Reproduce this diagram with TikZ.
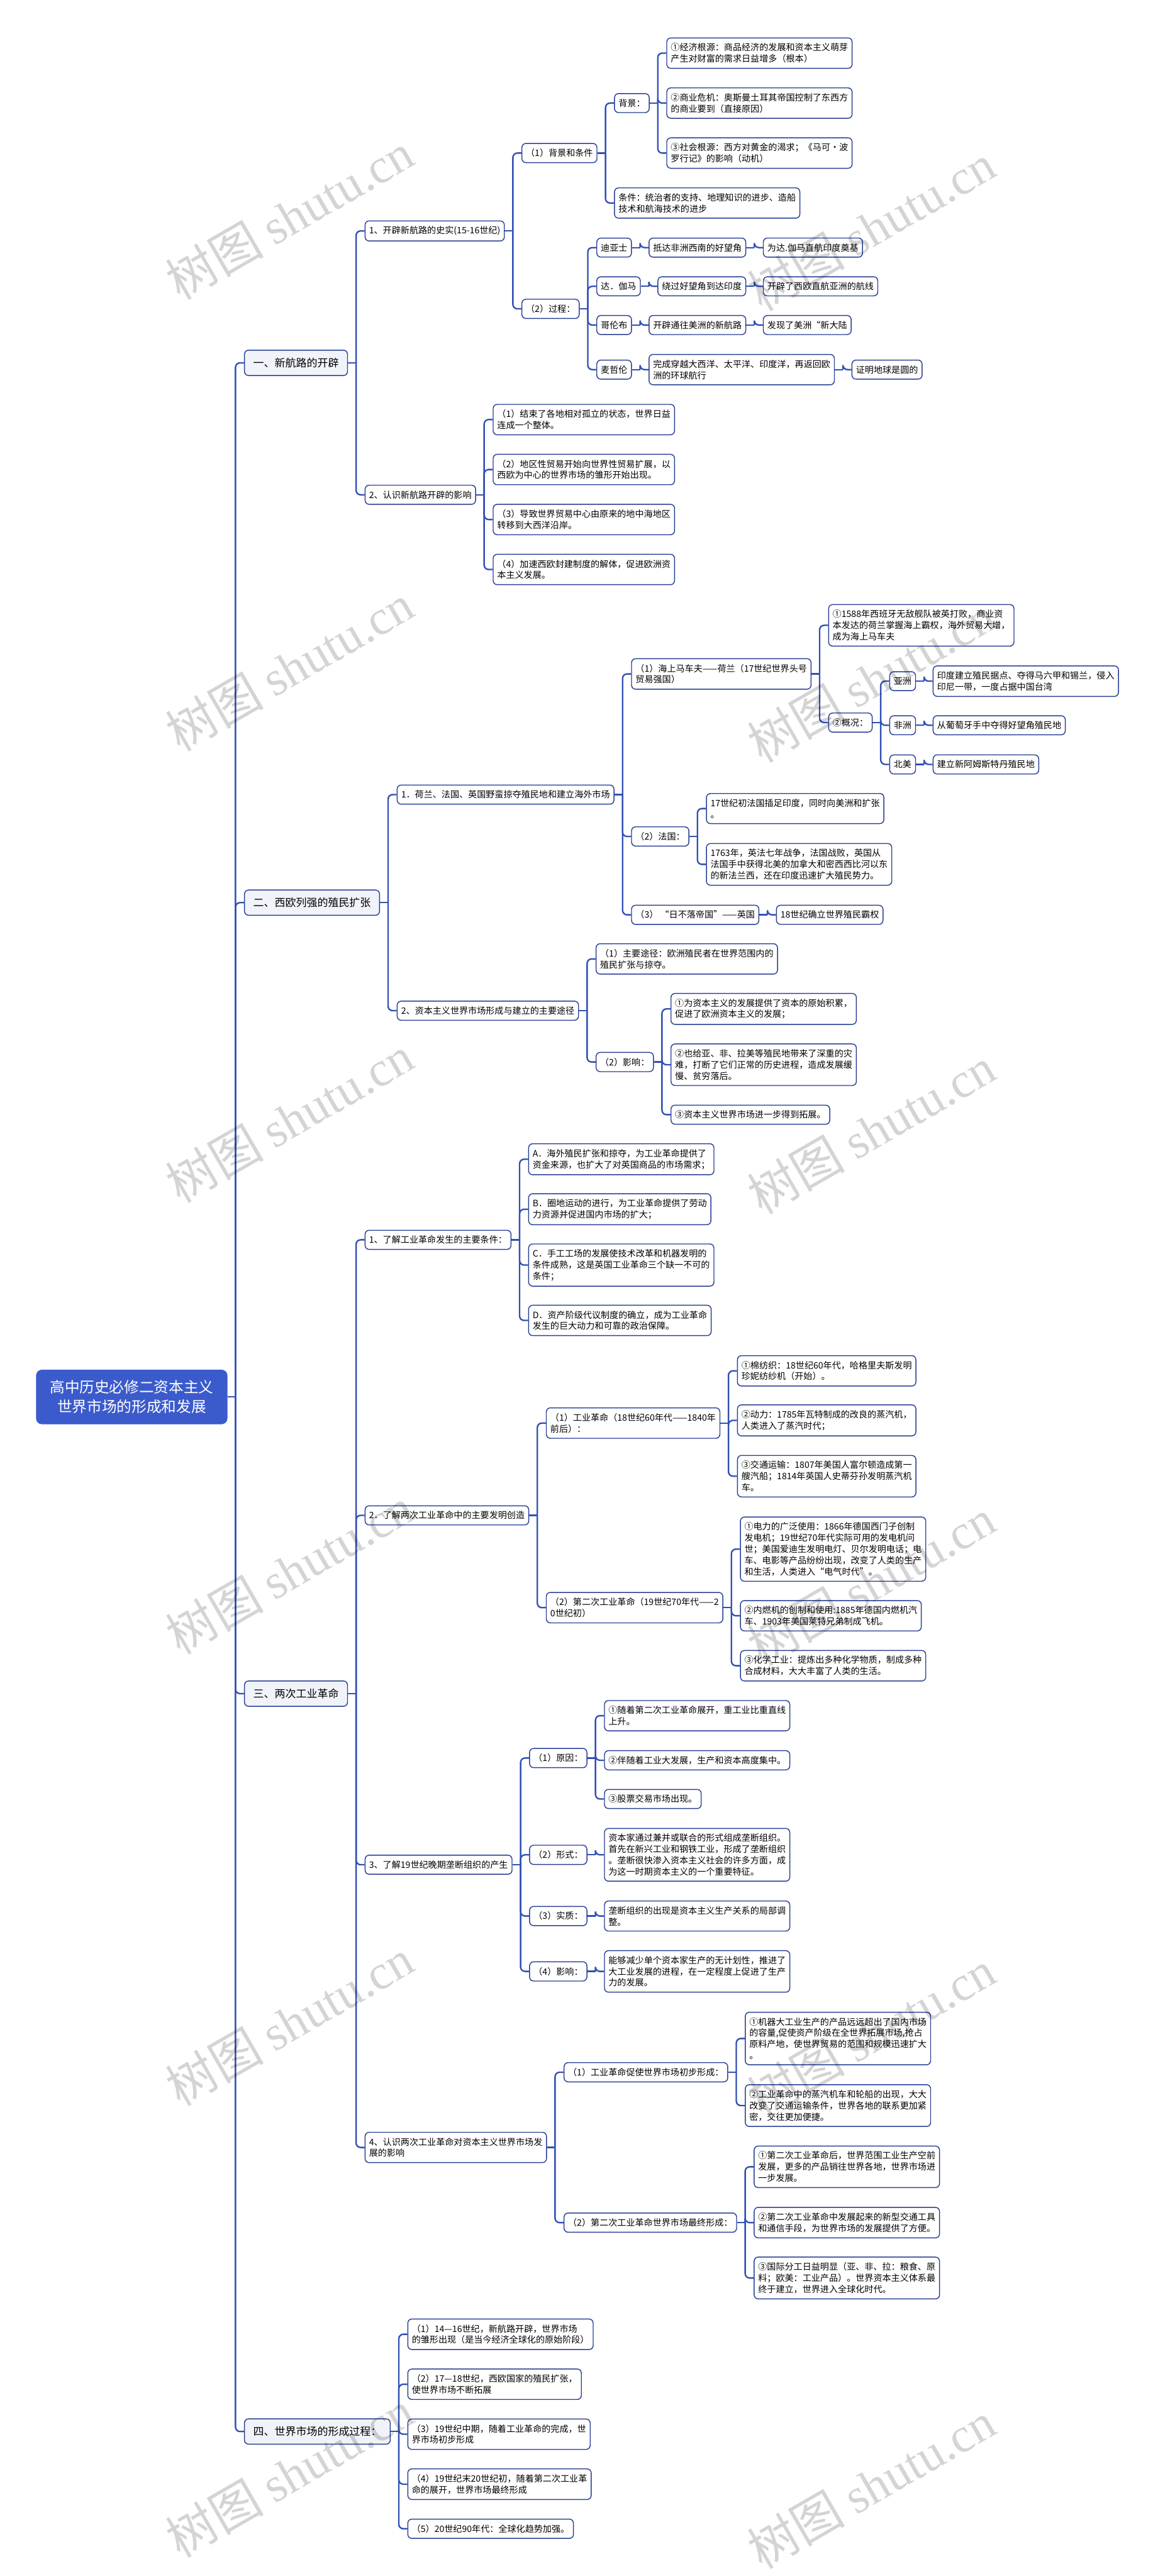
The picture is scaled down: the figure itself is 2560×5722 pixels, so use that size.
\documentclass[tikz,border=0pt]{standalone}
\usepackage{fontspec}
\setmainfont{Noto Sans CJK SC}
\newfontfamily\stampfont{Liberation Serif}
\usetikzlibrary{calc,positioning}
\definecolor{RootBlue}{RGB}{59,91,204}
\definecolor{LinkBlue}{RGB}{50,80,180}
\definecolor{FrameNavy}{RGB}{42,64,150}
\definecolor{TopicBg}{RGB}{240,243,250}

% child node: [style]{name}{parent}{y}{text}
\newcommand\mapkid[5][box]{\node[#1, anchor=west] (#2) at ($(#3.east |- 0,#4)+(37,0)$) {#5};}
% elbow connector parent -> child
\newcommand\mapedge[2]{\draw[link] (#1.east) -- ++(18,0);
  \draw[link, rounded corners=1mm] ($(#1.east)+(18,0)$) |- (#2.west);}

\begin{document}
\begin{tikzpicture}[x=0.1mm, y=-0.1mm,
    box/.style={draw=FrameNavy, fill=white, line width=0.2mm, rounded corners=0.9mm, align=left,
      inner xsep=0.9mm, inner ysep=1.2mm, font=\fontsize{5.6pt}{7.1pt}\selectfont},
    topic/.style={draw=FrameNavy, fill=TopicBg, line width=0.2mm, rounded corners=0.9mm,
      inner xsep=1.95mm, inner ysep=1.7mm, font=\fontsize{6.75pt}{8.5pt}\selectfont},
    rootnode/.style={draw=RootBlue, fill=RootBlue, text=white, rounded corners=1.2mm, align=center,
      inner xsep=3mm, inner ysep=2.3mm, font=\fontsize{9.4pt}{12.2pt}\selectfont},
    link/.style={draw=LinkBlue, line width=0.33mm},
    stamp/.style={rotate=30, text=black, text opacity=0.17, font=\fontsize{31pt}{31pt}\selectfont}]

  \fill[white] (0,0) rectangle (2560,5722);
  \useasboundingbox (0,0) rectangle (2560,5722);

  \node[rootnode, anchor=east] (root) at (505,3103) {高中历史必修二资本主义\\世界市场的形成和发展};

  \mapkid[topic]{s1}{root}{806}{一、新航路的开辟}
  \mapkid[topic]{s2}{root}{2005}{二、西欧列强的殖民扩张}
  \mapkid[topic]{s3}{root}{3762}{三、两次工业革命}
  \mapkid[topic]{s4}{root}{5401}{四、世界市场的形成过程：}

  % 一、新航路的开辟
  \mapkid{a1}{s1}{513}{1、开辟新航路的史实(15-16世纪)}
  \mapkid{a1p1}{a1}{340}{（1）背景和条件}
  \mapkid{bgd}{a1p1}{229}{背景：}
  \mapkid{bg1}{bgd}{118}{①经济根源：商品经济的发展和资本主义萌芽\\产生对财富的需求日益增多（根本）}
  \mapkid{bg2}{bgd}{229}{②商业危机：奥斯曼土耳其帝国控制了东西方\\的商业要到（直接原因）}
  \mapkid{bg3}{bgd}{340}{③社会根源：西方对黄金的渴求；《马可•波\\罗行记》的影响（动机）}
  \mapkid{cond}{a1p1}{451}{条件：统治者的支持、地理知识的进步、造船\\技术和航海技术的进步}
  \mapkid{a1p2}{a1}{686}{（2）过程：}
  \mapkid{dias}{a1p2}{550}{迪亚士}
  \mapkid{dias2}{dias}{550}{抵达非洲西南的好望角}
  \mapkid{dias3}{dias2}{550}{为达.伽马直航印度奠基}
  \mapkid{gama}{a1p2}{636}{达．伽马}
  \mapkid{gama2}{gama}{636}{绕过好望角到达印度}
  \mapkid{gama3}{gama2}{636}{开辟了西欧直航亚洲的航线}
  \mapkid{colu}{a1p2}{722}{哥伦布}
  \mapkid{colu2}{colu}{722}{开辟通往美洲的新航路}
  \mapkid{colu3}{colu2}{722}{发现了美洲“新大陆}
  \mapkid{mage}{a1p2}{821}{麦哲伦}
  \mapkid{mage2}{mage}{821}{完成穿越大西洋、太平洋、印度洋，再返回欧\\洲的环球航行}
  \mapkid{mage3}{mage2}{821}{证明地球是圆的}
  \mapkid{a2}{s1}{1099}{2、认识新航路开辟的影响}
  \mapkid{a2i1}{a2}{932}{（1）结束了各地相对孤立的状态，世界日益\\连成一个整体。}
  \mapkid{a2i2}{a2}{1043}{（2）地区性贸易开始向世界性贸易扩展，以\\西欧为中心的世界市场的雏形开始出现。}
  \mapkid{a2i3}{a2}{1154}{（3）导致世界贸易中心由原来的地中海地区\\转移到大西洋沿岸。}
  \mapkid{a2i4}{a2}{1265}{（4）加速西欧封建制度的解体，促进欧洲资\\本主义发展。}

  % 二、西欧列强的殖民扩张
  \mapkid{b1}{s2}{1765}{1．荷兰、法国、英国野蛮掠夺殖民地和建立海外市场}
  \mapkid{b1p1}{b1}{1497}{（1）海上马车夫——荷兰（17世纪世界头号\\贸易强国）}
  \mapkid{nl1}{b1p1}{1389}{①1588年西班牙无敌舰队被英打败，商业资\\本发达的荷兰掌握海上霸权，海外贸易大增，\\成为海上马车夫}
  \mapkid{nl2}{b1p1}{1605}{②概况：}
  \mapkid{asia}{nl2}{1513}{亚洲}
  \mapkid{asia2}{asia}{1513}{印度建立殖民据点、夺得马六甲和锡兰，侵入\\印尼一带，一度占据中国台湾}
  \mapkid{afri}{nl2}{1611}{非洲}
  \mapkid{afri2}{afri}{1611}{从葡萄牙手中夺得好望角殖民地}
  \mapkid{amer}{nl2}{1698}{北美}
  \mapkid{amer2}{amer}{1698}{建立新阿姆斯特丹殖民地}
  \mapkid{b1p2}{b1}{1858}{（2）法国：}
  \mapkid{fr1}{b1p2}{1796}{17世纪初法国插足印度，同时向美洲和扩张\\。}
  \mapkid{fr2}{b1p2}{1920}{1763年，英法七年战争，法国战败，英国从\\法国手中获得北美的加拿大和密西西比河以东\\的新法兰西，还在印度迅速扩大殖民势力。}
  \mapkid{b1p3}{b1}{2032}{（3）\ “日不落帝国”——英国}
  \mapkid{uk2}{b1p3}{2032}{18世纪确立世界殖民霸权}
  \mapkid{b2}{s2}{2245}{2、资本主义世界市场形成与建立的主要途径}
  \mapkid{b2p1}{b2}{2130}{（1）主要途径：欧洲殖民者在世界范围内的\\殖民扩张与掠夺。}
  \mapkid{b2p2}{b2}{2359}{（2）影响：}
  \mapkid{ef1}{b2p2}{2241}{①为资本主义的发展提供了资本的原始积累，\\促进了欧洲资本主义的发展；}
  \mapkid{ef2}{b2p2}{2365}{②也给亚、非、拉美等殖民地带来了深重的灾\\难，打断了它们正常的历史进程，造成发展缓\\慢、贫穷落后。}
  \mapkid{ef3}{b2p2}{2476}{③资本主义世界市场进一步得到拓展。}

  % 三、两次工业革命
  \mapkid{c1}{s3}{2754}{1、了解工业革命发生的主要条件：}
  \mapkid{cA}{c1}{2575}{A．海外殖民扩张和掠夺，为工业革命提供了\\资金来源，也扩大了对英国商品的市场需求；}
  \mapkid{cB}{c1}{2686}{B．圈地运动的进行，为工业革命提供了劳动\\力资源并促进国内市场的扩大；}
  \mapkid{cC}{c1}{2810}{C．手工工场的发展使技术改革和机器发明的\\条件成熟，这是英国工业革命三个缺一不可的\\条件；}
  \mapkid{cD}{c1}{2933}{D．资产阶级代议制度的确立，成为工业革命\\发生的巨大动力和可靠的政治保障。}
  \mapkid{c2}{s3}{3366}{2．了解两次工业革命中的主要发明创造}
  \mapkid{c2p1}{c2}{3161}{（1）工业革命（18世纪60年代——1840年\\前后）：}
  \mapkid{ir1}{c2p1}{3045}{①棉纺织：18世纪60年代，哈格里夫斯发明\\珍妮纺纱机（开始）。}
  \mapkid{ir2}{c2p1}{3155}{②动力：1785年瓦特制成的改良的蒸汽机，\\人类进入了蒸汽时代；}
  \mapkid{ir3}{c2p1}{3279}{③交通运输：1807年美国人富尔顿造成第一\\艘汽船；1814年英国人史蒂芬孙发明蒸汽机\\车。}
  \mapkid{c2p2}{c2}{3571}{（2）第二次工业革命（19世纪70年代——2\\0世纪初）}
  \mapkid{ir4}{c2p2}{3441}{①电力的广泛使用：1866年德国西门子创制\\发电机；19世纪70年代实际可用的发电机问\\世；美国爱迪生发明电灯、贝尔发明电话；电\\车、电影等产品纷纷出现，改变了人类的生产\\和生活，人类进入“电气时代”。}
  \mapkid{ir5}{c2p2}{3589}{②内燃机的创制和使用:1885年德国内燃机汽\\车、1903年美国莱特兄弟制成飞机。}
  \mapkid{ir6}{c2p2}{3700}{③化学工业：提炼出多种化学物质，制成多种\\合成材料，大大丰富了人类的生活。}
  \mapkid{c3}{s3}{4142}{3、了解19世纪晚期垄断组织的产生}
  \mapkid{c3p1}{c3}{3905}{（1）原因：}
  \mapkid{mo1}{c3p1}{3811}{①随着第二次工业革命展开，重工业比重直线\\上升。}
  \mapkid{mo2}{c3p1}{3910}{②伴随着工业大发展，生产和资本高度集中。}
  \mapkid{mo3}{c3p1}{3996}{③股票交易市场出现。}
  \mapkid{c3p2}{c3}{4120}{（2）形式：}
  \mapkid{mo4}{c3p2}{4120}{资本家通过兼并或联合的形式组成垄断组织。\\首先在新兴工业和钢铁工业，形成了垄断组织\\。垄断很快渗入资本主义社会的许多方面，成\\为这一时期资本主义的一个重要特征。}
  \mapkid{c3p3}{c3}{4256}{（3）实质：}
  \mapkid{mo5}{c3p3}{4256}{垄断组织的出现是资本主义生产关系的局部调\\整。}
  \mapkid{c3p4}{c3}{4379}{（4）影响：}
  \mapkid{mo6}{c3p4}{4379}{能够减少单个资本家生产的无计划性，推进了\\大工业发展的进程，在一定程度上促进了生产\\力的发展。}
  \mapkid{c4}{s3}{4770}{4、认识两次工业革命对资本主义世界市场发\\展的影响}
  \mapkid{c4p1}{c4}{4603}{（1）工业革命促使世界市场初步形成：}
  \mapkid{mk1}{c4p1}{4528}{①机器大工业生产的产品远远超出了国内市场\\的容量,促使资产阶级在全世界拓展市场,抢占\\原料产地，使世界贸易的范围和规模迅速扩大\\。}
  \mapkid{mk2}{c4p1}{4677}{②工业革命中的蒸汽机车和轮船的出现，大大\\改变了交通运输条件，世界各地的联系更加紧\\密，交往更加便捷。}
  \mapkid{c4p2}{c4}{4937}{（2）第二次工业革命世界市场最终形成：}
  \mapkid{mk3}{c4p2}{4813}{①第二次工业革命后，世界范围工业生产空前\\发展，更多的产品销往世界各地，世界市场进\\一步发展。}
  \mapkid{mk4}{c4p2}{4937}{②第二次工业革命中发展起来的新型交通工具\\和通信手段，为世界市场的发展提供了方便。}
  \mapkid{mk5}{c4p2}{5060}{③国际分工日益明显（亚、非、拉：粮食、原\\料；欧美：工业产品）。世界资本主义体系最\\终于建立，世界进入全球化时代。}

  % 四、世界市场的形成过程
  \mapkid{d1}{s4}{5185}{（1）14—16世纪，新航路开辟，世界市场\\的雏形出现（是当今经济全球化的原始阶段）}
  \mapkid{d2}{s4}{5296}{（2）17—18世纪，西欧国家的殖民扩张，\\使世界市场不断拓展}
  \mapkid{d3}{s4}{5407}{（3）19世纪中期，随着工业革命的完成，世\\界市场初步形成}
  \mapkid{d4}{s4}{5518}{（4）19世纪末20世纪初，随着第二次工业革\\命的展开，世界市场最终形成}
  \mapkid{d5}{s4}{5617}{（5）20世纪90年代：全球化趋势加强。}

  % connectors
  \foreach \p/\c in {root/s1, root/s2, root/s3, root/s4,
      s1/a1, s1/a2, a1/a1p1, a1/a1p2, a1p1/bgd, a1p1/cond, bgd/bg1, bgd/bg2, bgd/bg3,
      a1p2/dias, a1p2/gama, a1p2/colu, a1p2/mage, dias/dias2, dias2/dias3, gama/gama2, gama2/gama3,
      colu/colu2, colu2/colu3, mage/mage2, mage2/mage3, a2/a2i1, a2/a2i2, a2/a2i3, a2/a2i4}
    {\mapedge{\p}{\c}}
  \foreach \p/\c in {s2/b1, s2/b2, b1/b1p1, b1/b1p2, b1/b1p3, b1p1/nl1, b1p1/nl2,
      nl2/asia, nl2/afri, nl2/amer, asia/asia2, afri/afri2, amer/amer2,
      b1p2/fr1, b1p2/fr2, b1p3/uk2, b2/b2p1, b2/b2p2, b2p2/ef1, b2p2/ef2, b2p2/ef3}
    {\mapedge{\p}{\c}}
  \foreach \p/\c in {s3/c1, s3/c2, s3/c3, s3/c4, c1/cA, c1/cB, c1/cC, c1/cD,
      c2/c2p1, c2/c2p2, c2p1/ir1, c2p1/ir2, c2p1/ir3, c2p2/ir4, c2p2/ir5, c2p2/ir6,
      c3/c3p1, c3/c3p2, c3/c3p3, c3/c3p4, c3p1/mo1, c3p1/mo2, c3p1/mo3, c3p2/mo4, c3p3/mo5, c3p4/mo6,
      c4/c4p1, c4/c4p2, c4p1/mk1, c4p1/mk2, c4p2/mk3, c4p2/mk4, c4p2/mk5}
    {\mapedge{\p}{\c}}
  \foreach \c in {d1,d2,d3,d4,d5} {\mapedge{s4}{\c}}

  % watermark
  \foreach \k in {0,...,5} {
    \node[stamp] (stampL\k) at (643, 480+1003*\k) {树图 {\stampfont shutu.cn}};
    \node[stamp] (stampR\k) at (1935, 505+1003*\k) {树图 {\stampfont shutu.cn}};
  }
\end{tikzpicture}
\end{document}
